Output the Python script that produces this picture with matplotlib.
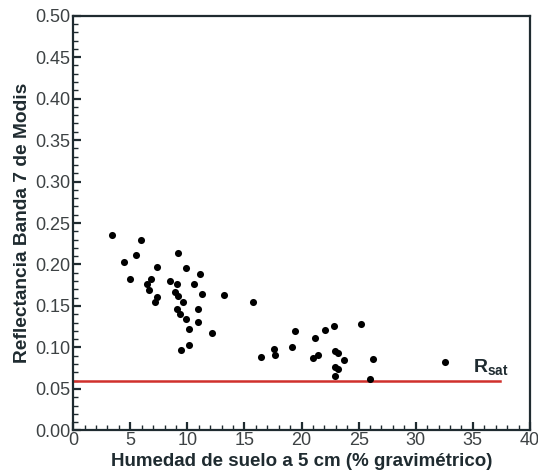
import numpy as np
import matplotlib.pyplot as plt
from matplotlib.ticker import MultipleLocator, FormatStrFormatter

plt.rcParams['font.family'] = ['Liberation Sans', 'DejaVu Sans']

# humedad (% gravimetrico) y reflectancia banda 7
humedad = [3.36, 5.90, 5.46, 4.47, 9.14, 7.36, 9.89, 11.12, 4.99, 6.83,
           8.47, 9.05, 10.60, 6.48, 6.66, 8.93, 9.14, 11.30, 13.22, 7.36,
           7.13, 9.63, 9.11, 10.89, 9.34, 9.89, 10.89, 10.16, 12.12, 10.16,
           9.40, 15.76, 19.47, 22.07, 22.80, 25.17, 21.19, 17.60, 17.66, 19.15,
           16.46, 21.02, 21.40, 22.94, 23.20, 23.73, 26.30, 22.92, 23.20, 22.94,
           25.98, 32.52]
reflect = [0.235, 0.230, 0.212, 0.203, 0.214, 0.197, 0.196, 0.188, 0.183, 0.183,
           0.180, 0.176, 0.177, 0.176, 0.169, 0.167, 0.162, 0.165, 0.163, 0.161,
           0.155, 0.155, 0.146, 0.146, 0.140, 0.134, 0.131, 0.122, 0.118, 0.103,
           0.097, 0.155, 0.120, 0.121, 0.126, 0.128, 0.111, 0.098, 0.091, 0.100,
           0.088, 0.087, 0.091, 0.096, 0.093, 0.085, 0.086, 0.076, 0.074, 0.065,
           0.062, 0.083]
r_sat = 0.059
r_sat_x = [0, 37.4]

fig = plt.figure(figsize=(5.38, 4.74), dpi=100)
ax = fig.add_axes([0.136, 0.092, 0.849, 0.875])
axis_col = '#1f2b30'

ax.scatter(humedad, reflect, s=26, color='black', marker='o', zorder=3, linewidths=0)
ax.plot(r_sat_x, [r_sat, r_sat], color='#d0302c', lw=1.8, zorder=2)
ax.text(35.0, r_sat + 0.004, 'R$_{\\mathregular{sat}}$', fontsize=14, fontweight='bold',
        color=axis_col, va='bottom', ha='left')

ax.set_xlim(0, 40)
ax.set_ylim(0, 0.5)
ax.xaxis.set_major_locator(MultipleLocator(5))
ax.xaxis.set_minor_locator(MultipleLocator(1))
ax.yaxis.set_major_locator(MultipleLocator(0.05))
ax.yaxis.set_minor_locator(MultipleLocator(0.01))
ax.yaxis.set_major_formatter(FormatStrFormatter('%.2f'))

for s in ax.spines.values():
    s.set_color(axis_col)
    s.set_linewidth(1.6)
ax.tick_params(which='both', direction='in', top=False, right=False, color=axis_col,
               labelcolor='#3d4244', labelsize=13)
ax.tick_params(which='major', length=6, width=1.6, pad=2)
ax.tick_params(axis='x', which='major', pad=1)
ax.tick_params(which='minor', length=3.5, width=1.0)

ax.set_xlabel('Humedad de suelo a 5 cm (% gravimétrico)', fontsize=13.5, fontweight='bold',
              color=axis_col, labelpad=3)
ax.set_ylabel('Reflectancia Banda 7 de Modis', fontsize=13.8, fontweight='bold',
              color=axis_col, labelpad=3)

fig.savefig('out.png', dpi=100)
